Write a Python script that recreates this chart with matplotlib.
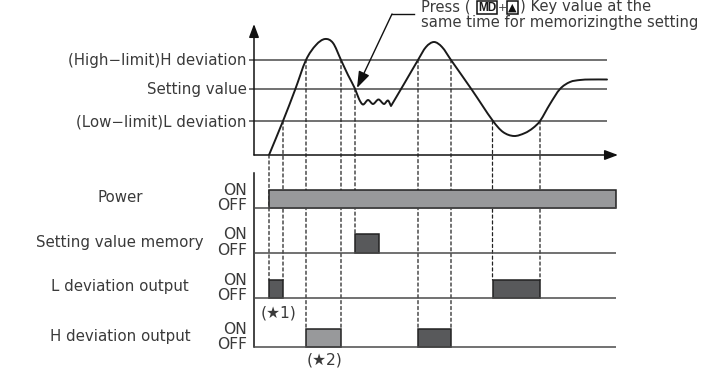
import matplotlib
matplotlib.use('Agg')
import matplotlib.pyplot as plt
from matplotlib.path import Path
from matplotlib.patches import PathPatch, ConnectionPatch, Rectangle
from matplotlib.lines import Line2D
import matplotlib.transforms as mtransforms
import numpy as np

plt.rcParams['font.family'] = ['DejaVu Sans']

# ---------------- data ----------------
level_names = ['(High\u2212limit)H deviation', 'Setting value', '(Low\u2212limit)L deviation']
level_values = [95.3, 66.3, 34.0]          # H, SV, L (process value units)

curve_t = [15, 29, 41, 52, 62, 71, 79, 87, 94, 101, 105, 109, 114, 119, 124.5, 130, 134,
           137, 150, 164, 172, 180, 188, 197, 218, 239, 249, 260, 271, 279, 286, 296,
           306, 316, 326, 336, 353]
curve_pv = [0, 34, 65, 95, 110, 116, 112, 95, 80, 66.3, 56, 50.5, 55, 51, 55.5, 51, 54.5,
            49, 71, 95, 108, 113, 108, 95, 65, 34, 23, 19, 22, 27, 34, 51,
            66, 73, 75, 75.5, 75.5]
curve_corners = [137]

signal_names = ['Power', 'Setting value memory', 'L deviation output', 'H deviation output']
power_on = [(15, 362)]
memory_on = [(101, 124.5)]
l_dev_on = [(15, 29), (238.5, 286)]
h_dev_on = [(52, 87), (164, 197)]
signal_on = [power_on, memory_on, l_dev_on, h_dev_on]

event_t = [15, 29, 52, 87, 101, 164, 197, 238.5, 286]
event_pv = [0, 34.0, 95.3, 95.3, 66.3, 95.3, 95.3, 34.0, 34.0]
event_row = [2, 2, 3, 3, 1, 3, 3, 2, 2]

note_line1 = ['Press (', 'MD', '+', '\u25B2', ') Key value at the']
note_line2 = 'same time for memorizingthe setting'
star_labels = ['(\u26051)', '(\u26052)']

# ---------------- styles / layout ----------------
LIGHT = '#98999b'
DARK = '#58595b'
bar_colors = [[LIGHT], [DARK], [DARK, DARK], [LIGHT, DARK]]
TXT = '#3a3a3a'
LINE = '#111111'
REF = '#4a4a4a'
FS_LAB = 10.8
FS_ONOFF = 11.2

W, H = 706, 373
def fx(px):
    return px / W
def fy(py):
    return 1 - py / H

fig = plt.figure(figsize=(W / 100, H / 100), dpi=100)

X0, X1 = 254, 618
TMAX = X1 - X0

# ---------------- top panel ----------------
ax = fig.add_axes([fx(X0), fy(155), fx(X1) - fx(X0), (155 - 20) / H])
ax.set_xlim(0, TMAX)
ax.set_ylim(0, 135)
ax.axis('off')

arrow_kw = dict(arrowstyle='-|>,head_length=0.8,head_width=0.3', color=LINE, lw=1.1,
                shrinkA=0, shrinkB=0, mutation_scale=10)
ax.annotate('', xy=(TMAX, 0), xytext=(0, 0), arrowprops=arrow_kw, annotation_clip=False)
ax.annotate('', xy=(0, 131), xytext=(0, 0), arrowprops=arrow_kw, annotation_clip=False)

ax.hlines(level_values, -5, 353, colors=REF, lw=1.1, clip_on=False, zorder=2)
tr_lab = mtransforms.blended_transform_factory(fig.transFigure, ax.transData)
for name, v in zip(level_names, level_values):
    ax.text(fx(247), v - 1.0, name, transform=tr_lab, ha='right', va='center',
            fontsize=FS_LAB, color=TXT)


def hermite_path(xs, ys, corners):
    x = np.asarray(xs, float)
    y = np.asarray(ys, float)
    n = len(x)
    mL = np.zeros(n)
    mR = np.zeros(n)
    for i in range(n):
        if i == 0:
            m = (y[1] - y[0]) / (x[1] - x[0])
            mL[i] = mR[i] = m
        elif i == n - 1:
            m = (y[-1] - y[-2]) / (x[-1] - x[-2])
            mL[i] = mR[i] = m
        elif xs[i] in corners:
            mL[i] = (y[i] - y[i - 1]) / (x[i] - x[i - 1])
            mR[i] = (y[i + 1] - y[i]) / (x[i + 1] - x[i])
        else:
            m = (y[i + 1] - y[i - 1]) / (x[i + 1] - x[i - 1])
            mL[i] = mR[i] = m
    verts = [(x[0], y[0])]
    codes = [Path.MOVETO]
    for i in range(n - 1):
        d = (x[i + 1] - x[i]) / 3
        verts += [(x[i] + d, y[i] + mR[i] * d), (x[i + 1] - d, y[i + 1] - mL[i + 1] * d),
                  (x[i + 1], y[i + 1])]
        codes += [Path.CURVE4] * 3
    return Path(verts, codes)

ax.add_patch(PathPatch(hermite_path(curve_t, curve_pv, curve_corners), fill=False,
                       ec='#1a1a1a', lw=1.4, zorder=3, capstyle='round', joinstyle='round'))

# annotation leader + arrow
ax.plot([138, 160], [141, 141], color=LINE, lw=1.0, clip_on=False)
ax.annotate('', xy=(103, 67), xytext=(138, 141),
            arrowprops=dict(arrowstyle='-|>,head_length=1.0,head_width=0.35', color=LINE,
                            lw=1.0, shrinkA=0, shrinkB=0, mutation_scale=10),
            annotation_clip=False)

# note text
FS_NOTE = 10.6
fig.text(fx(421), fy(11.5), note_line1[0], fontsize=FS_NOTE, color=TXT, va='baseline')
fig.text(fx(487), fy(7.6), note_line1[1], fontsize=8.6, fontweight='bold', color='#1a1a1a',
         family=['Liberation Sans', 'DejaVu Sans'], ha='center', va='center')
fig.add_artist(Rectangle((fx(477), fy(13.5)), fx(497) - fx(477), fy(1.5) - fy(13.5),
                         transform=fig.transFigure, fill=False, ec='#111', lw=1.1))
fig.text(fx(502.2), fy(8), note_line1[2], fontsize=8.2, color=TXT, ha='center', va='center')
fig.text(fx(512.5), fy(7.5), note_line1[3], fontsize=8, color='#111', ha='center', va='center')
fig.add_artist(Rectangle((fx(507), fy(13.5)), fx(518) - fx(507), fy(1.5) - fy(13.5),
                         transform=fig.transFigure, fill=False, ec='#111', lw=1.1))
fig.text(fx(519.5), fy(11.5), note_line1[4], fontsize=FS_NOTE, color=TXT, va='baseline')
fig.text(fx(421), fy(26.7), note_line2, fontsize=FS_NOTE, color=TXT, va='baseline')

# ---------------- signal rows ----------------
row_base = [208, 252.5, 298, 347]
row_top = [190, 234, 280, 328.5]
row_label_y = [197.5, 242.5, 286, 336]
sig_axes = []
for i, name in enumerate(signal_names):
    b, t = row_base[i], row_top[i]
    sa = fig.add_axes([fx(X0), fy(b), fx(X1) - fx(X0), (b - t) / H])
    sa.set_xlim(0, TMAX)
    sa.set_ylim(0, 1)
    sa.axis('off')
    sa.set_zorder(3)
    sa.patch.set_visible(False)
    sa.hlines(0, 0, 362, colors=REF, lw=1.1, clip_on=False)
    for (s, e), c in zip(signal_on[i], bar_colors[i]):
        sa.bar(s, 1, width=e - s, bottom=0, align='edge', color=c, edgecolor='#222',
               linewidth=1.1, clip_on=False)
    tr = mtransforms.blended_transform_factory(fig.transFigure, sa.transAxes)
    fig.text(fx(120), fy(row_label_y[i]), name, ha='center', va='center',
             fontsize=FS_LAB, color=TXT)
    sa.text(fx(247), 0.95, 'ON', transform=tr, ha='right', va='center', fontsize=FS_ONOFF,
            color=TXT)
    sa.text(fx(247), 0.12, 'OFF', transform=tr, ha='right', va='center', fontsize=FS_ONOFF,
            color=TXT)
    sig_axes.append(sa)

# lower vertical axis line
fig.add_artist(Line2D([fx(X0), fx(X0)], [fy(173), fy(347)], color=LINE, lw=1.1,
                      transform=fig.transFigure))

# dashed event markers
for t, pv, r in zip(event_t, event_pv, event_row):
    cp = ConnectionPatch(xyA=(t, pv), coordsA=ax.transData, xyB=(t, 1),
                         coordsB=sig_axes[r].transData, color='#222', lw=0.9,
                         linestyle=(0, (2.5, 2.2)), zorder=2)
    fig.add_artist(cp)

fig.text(fx(279), fy(313), star_labels[0], ha='center', va='center', fontsize=FS_ONOFF, color=TXT)
fig.text(fx(324), fy(360), star_labels[1], ha='center', va='center', fontsize=FS_ONOFF, color=TXT)

fig.savefig('out.png', dpi=100)
